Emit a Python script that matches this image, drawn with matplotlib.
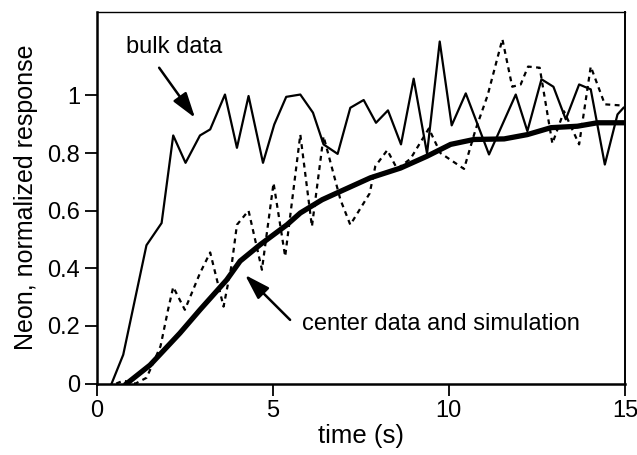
import matplotlib
matplotlib.use("Agg")
import matplotlib.pyplot as plt

plt.rcParams['font.family'] = ['Liberation Sans', 'DejaVu Sans']

# bulk data (thin solid line)
bulk_t = [0.42, 0.75, 1.08, 1.41, 1.84, 2.17, 2.52, 2.93, 3.22, 3.64, 3.98, 4.31,
          4.72, 5.04, 5.38, 5.78, 6.14, 6.44, 6.84, 7.20, 7.58, 7.93, 8.27, 8.64,
          9.00, 9.38, 9.74, 10.08, 10.48, 11.14, 11.90, 12.23, 12.63, 12.97, 13.32,
          13.70, 14.03, 14.43, 14.79, 14.96]
bulk_y = [0.0, 0.10, 0.29, 0.48, 0.557, 0.861, 0.766, 0.861, 0.882, 1.003, 0.818, 0.998,
          0.766, 0.899, 0.995, 1.003, 0.94, 0.83, 0.797, 0.957, 0.984, 0.905, 0.948, 0.83,
          1.058, 0.798, 1.187, 0.896, 1.007, 0.795, 1.003, 0.876, 1.056, 1.03, 0.917,
          1.038, 1.021, 0.76, 0.934, 0.957]

# center data (dotted line)
center_t = [0.55, 0.75, 1.10, 1.41, 1.56, 1.81, 2.03, 2.17, 2.50, 2.93, 3.22, 3.60,
            3.83, 3.98, 4.31, 4.69, 5.02, 5.35, 5.78, 6.11, 6.44, 6.92, 7.20, 7.75,
            7.91, 8.25, 8.53, 8.91, 9.43, 9.76, 10.43, 10.76, 11.10, 11.52, 11.80,
            12.04, 12.25, 12.58, 12.94, 13.27, 13.70, 14.03, 14.43, 14.91, 15.0]
center_y = [0.0, 0.01, 0.0, 0.02, 0.06, 0.13, 0.26, 0.335, 0.256, 0.383, 0.455, 0.267,
            0.412, 0.551, 0.60, 0.395, 0.696, 0.441, 0.864, 0.545, 0.858, 0.638, 0.551, 0.66,
            0.754, 0.81, 0.745, 0.78, 0.885, 0.80, 0.745, 0.882, 1.0, 1.195, 1.03,
            1.038, 1.10, 1.096, 0.833, 0.945, 0.83, 1.10, 0.969, 0.965, 0.965]

# simulation (thick line)
sim_t = [0.85, 1.51, 2.36, 2.93, 3.69, 4.07, 4.64, 5.40, 5.78, 6.40, 6.92, 7.77,
         8.63, 9.38, 10.05, 10.71, 11.57, 12.23, 12.9, 13.65, 14.22, 15.0]
sim_y = [0.0, 0.064, 0.175, 0.256, 0.36, 0.425, 0.482, 0.551, 0.592, 0.638, 0.667, 0.714,
         0.748, 0.789, 0.83, 0.847, 0.849, 0.864, 0.888, 0.893, 0.905, 0.905]

xticks = [0, 5, 10, 15]
yticks = [0, 0.2, 0.4, 0.6, 0.8, 1]
ytick_labels = ['0', '0.2', '0.4', '0.6', '0.8', '1']

fig = plt.figure(figsize=(6.37, 4.55), dpi=100)
ax = fig.add_axes([0.152, 0.157, 0.829, 0.817])

ax.plot(bulk_t, bulk_y, color='black', lw=1.6)
ax.plot(center_t, center_y, color='black', lw=1.6, linestyle=(0, (2.2, 2.0)))
ax.plot(sim_t, sim_y, color='black', lw=3.8, solid_joinstyle='round')

ax.set_xlim(0, 15)
ax.set_ylim(0, 1.29)
ax.set_xticks(xticks)
ax.set_yticks(yticks)
ax.set_yticklabels(ytick_labels)
ax.tick_params(direction='out', length=8.5, width=1.3, labelsize=17, pad=3.5)

for side in ['left', 'bottom']:
    ax.spines[side].set_linewidth(1.8)
ax.spines['top'].set_linewidth(1.0)
ax.spines['right'].set_linewidth(1.4)

ax.set_xlabel('time (s)', fontsize=18.5, labelpad=1)
ax.set_ylabel('Neon, normalized response', fontsize=18, labelpad=7)

arrow = dict(arrowstyle='-|>,head_length=0.7,head_width=0.22', color='black', lw=1.8,
             mutation_scale=22, shrinkA=0, shrinkB=0)
ax.annotate('', xy=(2.79, 0.922), xytext=(1.77, 1.096), arrowprops=arrow)
ax.annotate('', xy=(4.21, 0.377), xytext=(5.49, 0.221), arrowprops=arrow)

ax.text(0.83, 1.167, 'bulk data', fontsize=17, va='center', ha='left')
ax.text(5.84, 0.207, 'center data and simulation', fontsize=17, va='center', ha='left')

fig.savefig('out.png', dpi=100)
